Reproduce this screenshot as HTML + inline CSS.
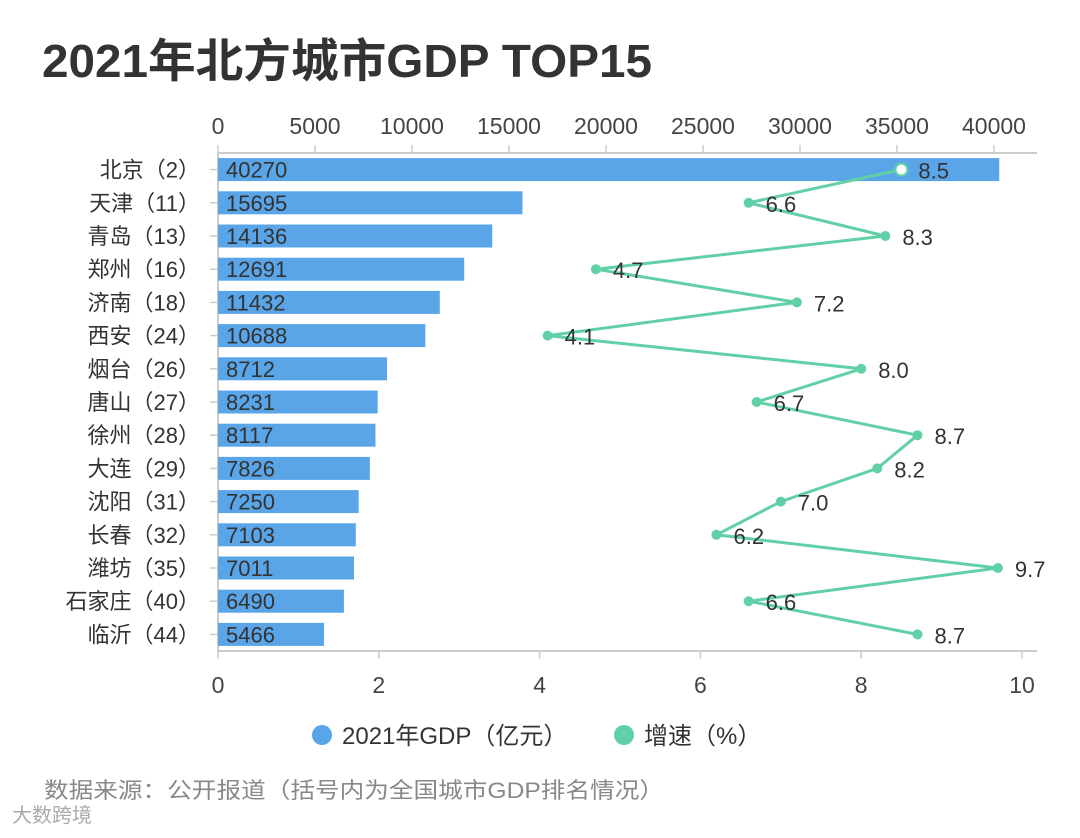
<!DOCTYPE html>
<html><head><meta charset="utf-8"><style>
body{margin:0;background:#fff;}
svg text{font-family:"Liberation Sans","Noto Sans CJK SC",sans-serif;}
</style></head><body>
<svg width="1080" height="833" viewBox="0 0 1080 833">
<text x="42" y="77" font-size="46" font-weight="bold" fill="#333" textLength="610" lengthAdjust="spacingAndGlyphs">2021年北方城市GDP TOP15</text>
<g id="plot"></g>
<g>
<circle cx="322" cy="735" r="10" fill="#59a5e8"/>
<text x="342" y="744" font-size="24" fill="#333">2021年GDP（亿元）</text>
<circle cx="624" cy="735" r="10" fill="#62d0a6"/>
<text x="644" y="744" font-size="24" fill="#333">增速（%）</text>
</g>
<text x="44" y="798" font-size="22" fill="#888" textLength="620" lengthAdjust="spacingAndGlyphs">数据来源：公开报道（括号内为全国城市GDP排名情况）</text>
<text x="12" y="822" font-size="20" fill="#aaa">大数跨境</text>
</svg>
<script>
const cities=["北京（2）","天津（11）","青岛（13）","郑州（16）","济南（18）","西安（24）","烟台（26）","唐山（27）","徐州（28）","大连（29）","沈阳（31）","长春（32）","潍坊（35）","石家庄（40）","临沂（44）"];
const gdp=[40270,15695,14136,12691,11432,10688,8712,8231,8117,7826,7250,7103,7011,6490,5466];
const growth=[8.5,6.6,8.3,4.7,7.2,4.1,8.0,6.7,8.7,8.2,7.0,6.2,9.7,6.6,8.7];
const topTicks=[0,5000,10000,15000,20000,25000,30000,35000,40000];
const bottomTicks=[0,2,4,6,8,10];

const NS="http://www.w3.org/2000/svg";
const g=document.getElementById('plot');
const L=218,R=1037,T=153,B=651;
const xTop=v=>L+v*0.0194;
const xBot=v=>L+v*(1022-L)/10;
const rowH=(B-T)/cities.length;
const yRow=i=>T+rowH*(i+0.5);
function mk(tag,attrs,txt){const e=document.createElementNS(NS,tag);for(const k in attrs)e.setAttribute(k,attrs[k]);if(txt!==undefined)e.textContent=txt;g.appendChild(e);return e;}

let e;
e=mk('line',{x1:L,y1:T,x2:R,y2:T,stroke:'#ccc','stroke-width':2});


e=mk('line',{x1:L,y1:B,x2:R,y2:B,stroke:'#ccc','stroke-width':2});


e=mk('line',{x1:L,y1:T,x2:L,y2:B,stroke:'#ccc','stroke-width':2});



topTicks.forEach(v=>{
 const x=xTop(v);
 e=mk('line',{x1:x,y1:T-8,x2:x,y2:T,stroke:'#ccc','stroke-width':1.5});
 
 
 e=mk('text',{x:x,y:134,'font-size':23,fill:'#444','text-anchor':'middle'},String(v));
 
 
});
bottomTicks.forEach(v=>{
 const x=xBot(v);
 e=mk('line',{x1:x,y1:B,x2:x,y2:B+8,stroke:'#ccc','stroke-width':1.5});
 
 
 e=mk('text',{x:x,y:693,'font-size':23,fill:'#444','text-anchor':'middle'},String(v));
 
 
});

cities.forEach((c,i)=>{
 const y=yRow(i);
 e=mk('line',{x1:L-8,y1:y,x2:L,y2:y,stroke:'#ccc','stroke-width':1.5});
 
 
 e=mk('text',{x:200,y:y+8,'font-size':22,fill:'#333','text-anchor':'end'},c);
 
 
 e=mk('rect',{x:L,y:y-11.5,width:xTop(gdp[i])-L,height:23,fill:'#59a5e8'});
 
 
 e=mk('text',{x:226,y:y+8,'font-size':22,fill:'#333'},String(gdp[i]));
 
 
});

const pts=growth.map((v,i)=>xBot(v)+','+yRow(i)).join(' ');
e=mk('polyline',{points:pts,fill:'none',stroke:'#62d0a6','stroke-width':3});


growth.forEach((v,i)=>{
 const x=xBot(v),y=yRow(i);
 e=mk('circle',{cx:x,cy:y,r:i===0?6:5,fill:i===0?'#fff':'#62d0a6',stroke:'#62d0a6','stroke-width':i===0?2:0});
 
 
 e=mk('text',{x:x+17,y:y+9,'font-size':22,fill:'#333'},v.toFixed(1));
 
 
});
</script>
</body></html>
